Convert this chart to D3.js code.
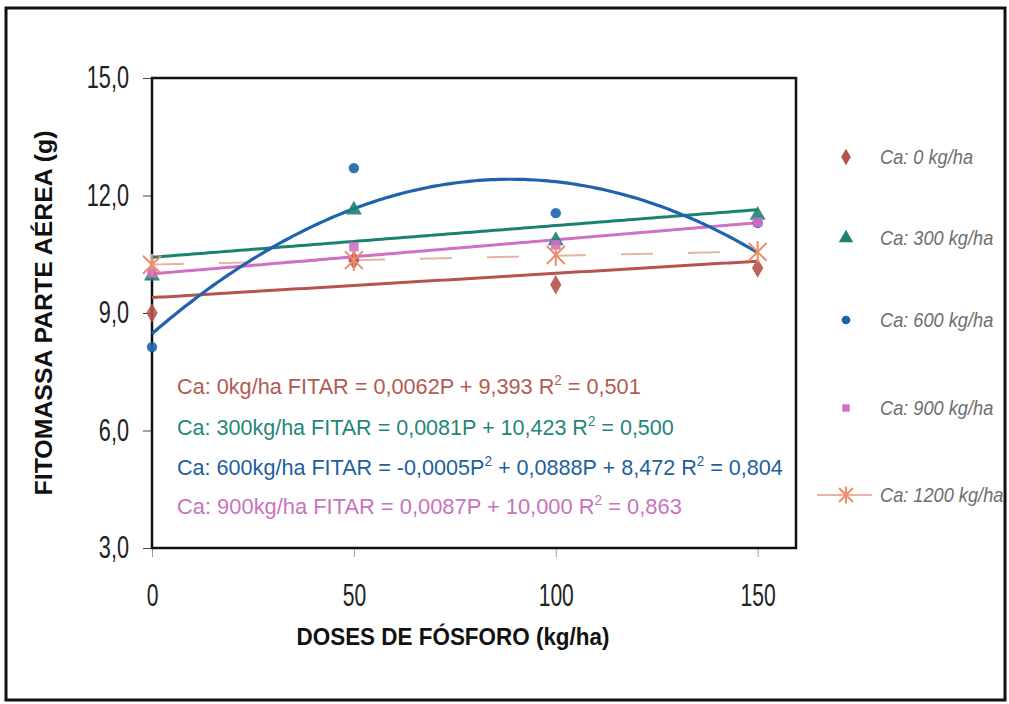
<!DOCTYPE html>
<html>
<head>
<meta charset="utf-8">
<script src="https://cdn.jsdelivr.net/npm/d3@7"></script>
<style>
  html, body { margin: 0; padding: 0; background: #fff; }
  svg { display: block; }
</style>
</head>
<body>
<svg id="chart" width="1009" height="704"></svg>
<script>
// Doses of phosphorus (kg/ha) and shoot biomass (g) for each calcium level
const doses = [0, 50, 100, 150];
const ca0 = [9.0, 10.35, 9.72, 10.15];
const ca300 = [9.95, 11.63, 10.85, 11.5];
const ca600 = [8.13, 12.70, 11.55, 11.3];
const ca900 = [10.02, 10.69, 10.74, 11.32];
const ca1200 = [10.23, 10.35, 10.48, 10.56];

const seriesNames = ["Ca: 0 kg/ha", "Ca: 300 kg/ha", "Ca: 600 kg/ha", "Ca: 900 kg/ha", "Ca: 1200 kg/ha"];
const xTicks = [0, 50, 100, 150];
const yTicks = [3, 6, 9, 12, 15];

// Fitted trend equations (coefficients as printed)
const fit0 = [0.0062, 9.393];            // slope, intercept
const fit300 = [0.0081, 10.423];
const fit600 = [-0.0005, 0.0888, 8.472]; // a, b, c
const fit900 = [0.0087, 10.000];

const eqLabels = [
  ["Ca: 0kg/ha FITAR = 0,0062P + 9,393 R", "2", " = 0,501"],
  ["Ca: 300kg/ha FITAR = 0,0081P + 10,423 R", "2", " = 0,500"],
  ["Ca: 600kg/ha FITAR = -0,0005P", "2", " + 0,0888P + 8,472 R", "2", " = 0,804"],
  ["Ca: 900kg/ha FITAR =  0,0087P + 10,000 R", "2", " = 0,863"]
];

const colors = {
  c0: "#b5544e", c300: "#1c8270", c600: "#1f62ad", c900: "#cf6fc6", c1200: "#ee8c6c",
  t0: "#b45a52", t300: "#23867a", t600: "#1d5f9c", t900: "#c873bd"
};

const svg = d3.select("#chart");
const SANS = "'Liberation Sans', Arial, sans-serif";

// Outer frame
svg.append("rect").attr("x", 6).attr("y", 8).attr("width", 999).attr("height", 692)
  .attr("fill", "none").attr("stroke", "#111").attr("stroke-width", 3);

const plotL = 152, plotT = 78, plotR = 796, plotB = 548;
const x = d3.scaleLinear().domain([0, 159.5]).range([plotL, plotR]);
const y = d3.scaleLinear().domain([3, 15]).range([plotB, plotT]);

// Squeeze a text horizontally around its own x anchor
function squeeze(sel, k) {
  sel.each(function () {
    const t = d3.select(this);
    const ax = +t.attr("x") || 0;
    t.attr("transform", `translate(${ax},0) scale(${k},1) translate(${-ax},0)`);
  });
}

// Axes
const fmt = d => d3.format(".1f")(d).replace(".", ",");
const yAxis = svg.append("g").attr("transform", `translate(${plotL},0)`)
  .call(d3.axisLeft(y).tickValues(yTicks).tickSize(9).tickPadding(14).tickFormat(fmt));
yAxis.select(".domain").remove();
yAxis.selectAll("line").attr("stroke", "#444").attr("stroke-width", 1);
yAxis.selectAll("text").attr("font-family", SANS).attr("font-size", 31).attr("fill", "#222")
  .call(squeeze, 0.7);

const xAxis = svg.append("g").attr("transform", `translate(0,${plotB})`)
  .call(d3.axisBottom(x).tickValues(xTicks).tickSize(9).tickPadding(27).tickFormat(d3.format("d")));
xAxis.select(".domain").remove();
xAxis.selectAll("line").attr("stroke", "#999").attr("stroke-width", 1);
xAxis.selectAll("text").attr("font-family", SANS).attr("font-size", 31).attr("fill", "#222")
  .call(squeeze, 0.68);

// Plot frame
svg.append("rect").attr("x", plotL).attr("y", plotT).attr("width", plotR - plotL).attr("height", plotB - plotT)
  .attr("fill", "none").attr("stroke", "#111").attr("stroke-width", 2.5);

// Axis titles
const xTitle = svg.append("text").attr("x", 0).attr("y", 0).attr("text-anchor", "middle")
  .attr("font-family", SANS).attr("font-weight", "bold").attr("font-size", 23).attr("fill", "#111")
  .text("DOSES DE FÓSFORO (kg/ha)");
xTitle.attr("transform", `translate(453,645) scale(${313 / xTitle.node().getComputedTextLength()},1)`);
const yTitle = svg.append("text").attr("x", 0).attr("y", 0).attr("text-anchor", "middle")
  .attr("font-family", SANS).attr("font-weight", "bold").attr("font-size", 23).attr("fill", "#111")
  .text("FITOMASSA PARTE AÉREA (g)");
yTitle.attr("transform", `translate(52,313) rotate(-90) scale(${365 / yTitle.node().getComputedTextLength()},1)`);

// Trend lines
const pRange = d3.range(0, 150.01, 1);
const line = d3.line().x(d => x(d[0])).y(d => y(d[1])).curve(d3.curveLinear);
const linear = f => pRange.map(p => [p, f[0] * p + f[1]]);
const quad = f => pRange.map(p => [p, f[0] * p * p + f[1] * p + f[2]]);

// Least-squares straight line for the 1200 kg/ha series (dashed)
const mx = d3.mean(doses), my = d3.mean(ca1200);
const slope1200 = d3.sum(doses, (d, i) => (d - mx) * (ca1200[i] - my)) / d3.sum(doses, d => (d - mx) ** 2);
const fit1200 = [slope1200, my - slope1200 * mx];

svg.append("path").datum(linear(fit1200)).attr("d", line).attr("fill", "none")
  .attr("stroke", "#e8b39e").attr("stroke-width", 2).attr("stroke-dasharray", "32,35");
svg.append("path").datum(linear(fit0)).attr("d", line).attr("fill", "none")
  .attr("stroke", colors.c0).attr("stroke-width", 3);
svg.append("path").datum(linear(fit300)).attr("d", line).attr("fill", "none")
  .attr("stroke", colors.c300).attr("stroke-width", 3);
svg.append("path").datum(linear(fit900)).attr("d", line).attr("fill", "none")
  .attr("stroke", colors.c900).attr("stroke-width", 3);
svg.append("path").datum(quad(fit600)).attr("d", line).attr("fill", "none")
  .attr("stroke", colors.c600).attr("stroke-width", 3.2);

// Markers
const sym = (type, size) => d3.symbol().type(type).size(size)();
function asterisk(g, cx, cy, r, color) {
  const a = g.append("g").attr("transform", `translate(${cx},${cy})`)
    .attr("stroke", color).attr("stroke-width", 2).attr("fill", "none");
  a.append("line").attr("x1", -r).attr("y1", -r).attr("x2", r).attr("y2", r);
  a.append("line").attr("x1", -r).attr("y1", r).attr("x2", r).attr("y2", -r);
  a.append("line").attr("x1", 0).attr("y1", -r * 1.2).attr("x2", 0).attr("y2", r * 1.2);
}
const series = [
  { vals: ca0, color: colors.c0, type: d3.symbolDiamond, size: 110 },
  { vals: ca300, color: colors.c300, type: d3.symbolTriangle, size: 110 },
  { vals: ca600, color: colors.c600, type: d3.symbolCircle, size: 85 },
  { vals: ca900, color: colors.c900, type: d3.symbolSquare, size: 90 }
];
const marks = svg.append("g");
series.forEach(s => {
  marks.selectAll(null).data(doses).enter().append("path")
    .attr("d", sym(s.type, s.size))
    .attr("transform", (d, i) => `translate(${x(d)},${y(s.vals[i])})`)
    .attr("fill", s.color).attr("opacity", 0.9);
});
doses.forEach((d, i) => asterisk(marks, x(d), y(ca1200[i]), 9, colors.c1200));

// Equation labels
const eqColors = [colors.t0, colors.t300, colors.t600, colors.t900];
const eqBase = [394, 435, 475, 514];
const eqWidth = [464, 497, 606, 505];
eqLabels.forEach((parts, k) => {
  const t = svg.append("text").attr("x", 0).attr("y", 0)
    .attr("font-family", SANS).attr("font-size", 22.5).attr("fill", eqColors[k]);
  parts.forEach((p, j) => {
    if (p === "2") {
      t.append("tspan").attr("dy", -9).attr("font-size", 14).text(p);
    } else {
      const ts = t.append("tspan").text(p);
      if (j > 0) ts.attr("dy", 9);
    }
  });
  const w = t.node().getComputedTextLength();
  t.attr("transform", `translate(177,${eqBase[k]}) scale(${eqWidth[k] / w},1)`);
});

// Legend
const legendY = [157, 238, 320, 408, 495];
const legendSyms = [
  { type: d3.symbolDiamond, size: 80, color: colors.c0 },
  { type: d3.symbolTriangle, size: 90, color: colors.c300 },
  { type: d3.symbolCircle, size: 60, color: colors.c600 },
  { type: d3.symbolSquare, size: 55, color: colors.c900 }
];
const legend = svg.append("g");
seriesNames.forEach((name, i) => {
  const ly = legendY[i];
  if (i < 4) {
    const s = legendSyms[i];
    legend.append("path").attr("d", sym(s.type, s.size))
      .attr("transform", `translate(846,${ly})`).attr("fill", s.color);
  } else {
    legend.append("line").attr("x1", 817).attr("x2", 872).attr("y1", ly).attr("y2", ly)
      .attr("stroke", "#e49a84").attr("stroke-width", 1.5);
    asterisk(legend, 846, ly, 7, colors.c1200);
  }
  legend.append("text").attr("x", 880).attr("y", ly + 7)
    .attr("font-family", SANS).attr("font-style", "italic").attr("font-size", 20)
    .attr("fill", "#6e6e6e").text(name)
    .call(squeeze, 0.91);
});
</script>
</body>
</html>
